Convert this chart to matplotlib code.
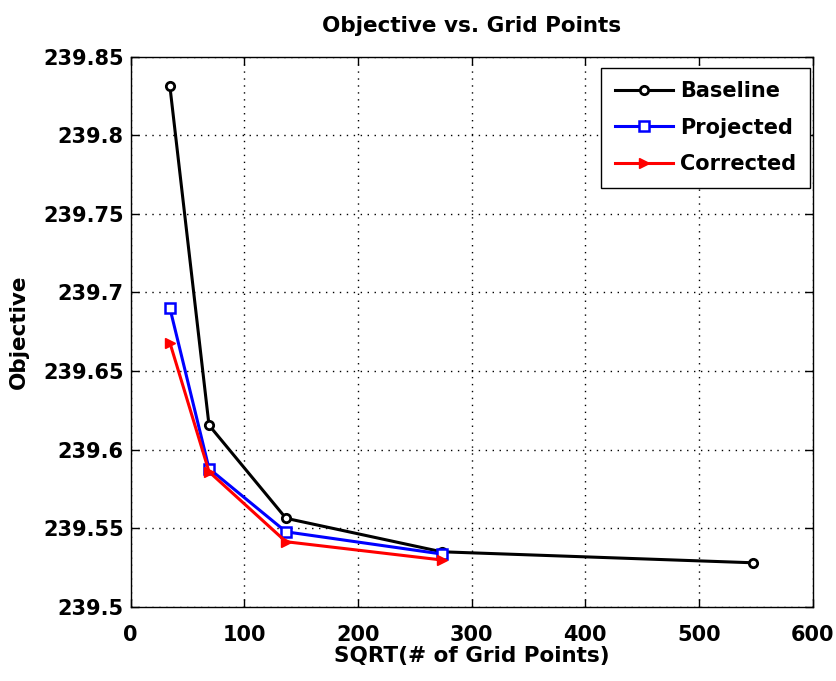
import matplotlib
matplotlib.use("Agg")
import matplotlib.pyplot as plt

# data
grid_sqrt = [34.6, 69.0, 136.7, 273.6, 547.7]
baseline = [239.831, 239.6156, 239.5564, 239.5351, 239.5281]
projected = [239.690, 239.588, 239.5478, 239.5337]
corrected = [239.668, 239.586, 239.5415, 239.5299]

plt.rcParams["font.family"] = ["DejaVu Sans"]
plt.rcParams["font.weight"] = "bold"

fig = plt.figure(figsize=(8.36, 6.81), dpi=100)
ax = fig.add_axes([0.1562, 0.1087, 0.8158, 0.8082])

ax.plot(grid_sqrt, baseline, color="black", lw=2.2, marker="o", ms=6,
        mfc="white", mec="black", mew=2, label="Baseline")
ax.plot(grid_sqrt[:4], projected, color="blue", lw=2.2, marker="s", ms=7,
        mfc="white", mec="blue", mew=1.8, label="Projected")
ax.plot(grid_sqrt[:4], corrected, color="red", lw=2.2, marker=">", ms=7,
        mfc="red", mec="red", label="Corrected")

ax.set_xlim(0, 600)
ax.set_ylim(239.5, 239.85)
ax.set_xticks([0, 100, 200, 300, 400, 500, 600])
ax.set_yticks([239.5, 239.55, 239.6, 239.65, 239.7, 239.75, 239.8, 239.85])
ax.set_yticklabels(["239.5", "239.55", "239.6", "239.65", "239.7",
                    "239.75", "239.8", "239.85"])

ax.tick_params(direction="in", top=True, right=True, length=6, width=1,
               labelsize=15)
ax.tick_params(axis="x", pad=13)
ax.tick_params(axis="y", pad=5)
for lbl in ax.get_xticklabels() + ax.get_yticklabels():
    lbl.set_fontweight("bold")

ax.grid(True, linestyle=(0, (1, 4)), color="black", linewidth=1)
for s in ax.spines.values():
    s.set_linewidth(1)

ax.set_title("Objective vs. Grid Points", fontsize=15.5, fontweight="bold", pad=18)
ax.set_xlabel("SQRT(# of Grid Points)", fontsize=15.5, fontweight="bold", labelpad=1)
ax.set_ylabel("Objective", fontsize=15.5, fontweight="bold", labelpad=10)

leg = ax.legend(loc="upper right", bbox_to_anchor=(0.996, 0.980),
                borderaxespad=0, fontsize=15, fancybox=False, framealpha=1,
                edgecolor="black", handlelength=2.8, borderpad=0.65,
                handletextpad=0.35, labelspacing=0.79)
leg.get_frame().set_linewidth(1)

fig.savefig("out.png", dpi=100)
